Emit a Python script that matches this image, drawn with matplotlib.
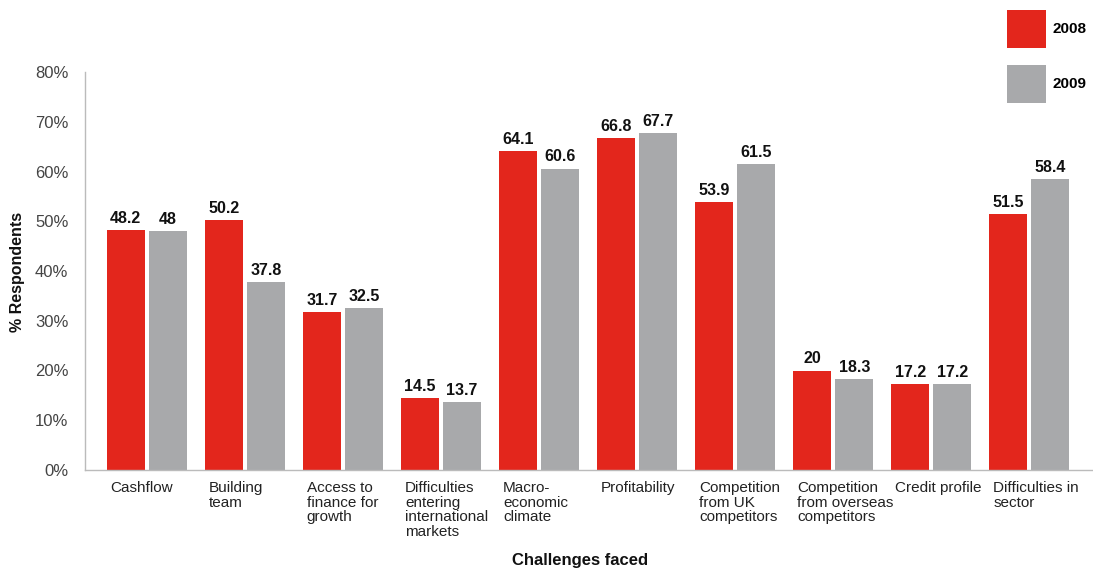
import matplotlib
matplotlib.use("Agg")
import matplotlib.pyplot as plt
import numpy as np

categories = ["Cashflow", "Building\nteam", "Access to\nfinance for\ngrowth",
              "Difficulties\nentering\ninternational\nmarkets", "Macro-\neconomic\nclimate",
              "Profitability", "Competition\nfrom UK\ncompetitors",
              "Competition\nfrom overseas\ncompetitors", "Credit profile", "Difficulties in\nsector"]
values_2008 = [48.2, 50.2, 31.7, 14.5, 64.1, 66.8, 53.9, 20, 17.2, 51.5]
values_2009 = [48, 37.8, 32.5, 13.7, 60.6, 67.7, 61.5, 18.3, 17.2, 58.4]
series_names = ["2008", "2009"]
yticks = [0, 10, 20, 30, 40, 50, 60, 70, 80]

RED = "#E3261C"
GRAY = "#A8A9AB"
plt.rcParams['font.family'] = ['Liberation Sans', 'DejaVu Sans']

fig = plt.figure(figsize=(10.93, 5.69), dpi=100)
ax = fig.add_axes([85/1093, 1-470/569, 1-85/1093, (470-72)/569])

x = np.arange(len(categories))
w = 0.39
off = 0.215
b1 = ax.bar(x - off, values_2008, w, color=RED, label=series_names[0])
b2 = ax.bar(x + off, values_2009, w, color=GRAY, label=series_names[1])

for bars, vals in ((b1, values_2008), (b2, values_2009)):
    for r, v in zip(bars, vals):
        ax.annotate(f"{v:g}", (r.get_x() + r.get_width()/2, v), xytext=(0, 3),
                    textcoords="offset points", ha="center", va="bottom",
                    fontsize=11.5, fontweight="bold", color="#111111")

ax.set_xlim(-0.63, 9.65)
ax.set_ylim(0, 80)
ax.set_yticks(yticks)
ax.set_yticklabels([f"{t}%" for t in yticks], fontsize=12, color="#444444")
ax.tick_params(axis="y", length=0, pad=12)
ax.set_xticks([])
for i, c in enumerate(categories):
    ax.annotate(c, (i - off - w/2, 0), xytext=(3, -8), textcoords="offset points",
                ha="left", va="top", fontsize=11, color="#222222", linespacing=1.05)

for s in ["top", "right"]:
    ax.spines[s].set_visible(False)
ax.spines["left"].set_color("#BBBBBB")
ax.spines["bottom"].set_color("#BBBBBB")
ax.spines["left"].set_linewidth(1)
ax.spines["bottom"].set_linewidth(1)

fig.text(18/1093, 1-272/569, "% Respondents", rotation=90, ha="center", va="center",
         fontsize=11.5, fontweight="bold", color="#111111")
fig.text(580/1093, 1-561/569, "Challenges faced", ha="center", va="center",
         fontsize=12, fontweight="bold", color="#111111")

leg = fig.legend(handles=[b1, b2], labels=series_names, loc="upper left",
                 bbox_to_anchor=(1007/1093, 1-10/569), frameon=False,
                 borderpad=0, borderaxespad=0, handlelength=2.55, handleheight=3.45,
                 handletextpad=0.4, labelspacing=1.1, prop={"size": 11, "weight": "bold"})

fig.savefig("out.png", dpi=100)
